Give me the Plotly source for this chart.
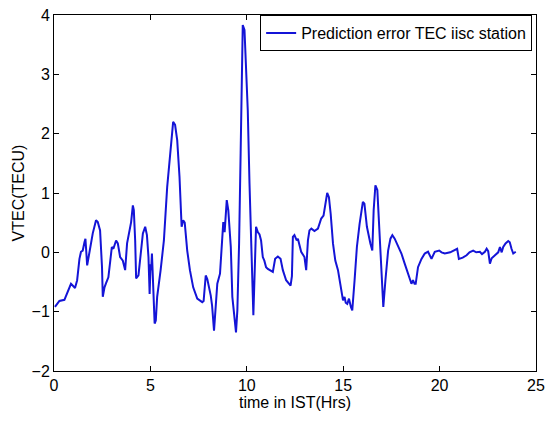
import plotly.graph_objects as go

time_hrs = [0.05, 0.28, 0.54, 0.62, 0.71, 0.80, 0.88, 0.97, 1.09, 1.20, 1.32, 1.40, 1.49, 1.58, 1.63,
            1.72, 1.84, 2.01, 2.18, 2.27, 2.39, 2.44, 2.49, 2.53, 2.62, 2.70, 2.82, 2.93, 3.00, 3.08,
            3.22, 3.31, 3.43, 3.57, 3.69, 3.79, 3.92, 4.00, 4.09, 4.14, 4.21, 4.26, 4.38, 4.49, 4.61,
            4.73, 4.82, 4.90, 4.96, 5.01, 5.04, 5.08, 5.15, 5.22, 5.28, 5.35, 5.53, 5.70, 5.87, 6.05,
            6.18, 6.28, 6.39, 6.51, 6.62, 6.70, 6.78, 6.91, 7.05, 7.22, 7.43, 7.69, 7.76, 7.87, 7.95,
            8.13, 8.20, 8.30, 8.40, 8.47, 8.61, 8.73, 8.78, 8.85, 8.96, 9.04, 9.17, 9.25, 9.44, 9.51,
            9.60, 9.68, 9.72, 9.79, 9.88, 9.96, 10.05, 10.14, 10.22, 10.31, 10.34, 10.39, 10.48, 10.57,
            10.66, 10.74, 10.83, 10.91, 11.00, 11.09, 11.35, 11.47, 11.61, 11.75, 11.87, 12.04, 12.27,
            12.34, 12.39, 12.47, 12.59, 12.65, 12.82, 12.99, 13.08, 13.17, 13.25, 13.35, 13.51, 13.69,
            13.86, 13.98, 14.07, 14.17, 14.26, 14.35, 14.47, 14.59, 14.73, 14.87, 14.99, 15.07, 15.13,
            15.21, 15.30, 15.40, 15.47, 15.59, 15.71, 15.85, 16.02, 16.10, 16.23, 16.41, 16.51, 16.58,
            16.67, 16.77, 16.86, 16.98, 17.08, 17.19, 17.33, 17.45, 17.55, 17.67, 17.85, 18.02, 18.19,
            18.36, 18.54, 18.62, 18.70, 18.76, 18.88, 19.06, 19.23, 19.40, 19.58, 19.75, 19.98, 20.10,
            20.27, 20.55, 20.79, 20.91, 21.00, 21.20, 21.40, 21.55, 21.74, 21.90, 22.09, 22.20, 22.35,
            22.44, 22.52, 22.61, 22.70, 22.87, 23.04, 23.13, 23.22, 23.30, 23.42, 23.56, 23.64, 23.73,
            23.82, 23.95]

pred_error = [-0.92, -0.82, -0.80, -0.73, -0.67, -0.60, -0.53, -0.56, -0.60, -0.47, -0.11, 0.01, 0.03, 0.17, 0.23,
              -0.22, 0.01, 0.32, 0.54, 0.51, 0.37, 0.09, -0.25, -0.75, -0.59, -0.52, -0.42, -0.11, 0.09, 0.06,
              0.20, 0.15, -0.08, -0.14, -0.30, 0.15, 0.34, 0.51, 0.79, 0.71, 0.20, -0.44, -0.39, 0.01, 0.32,
              0.43, 0.29, -0.08, -0.70, -0.20, -0.30, -0.02, -0.70, -1.20, -1.15, -0.75, -0.30, 0.20, 1.10, 1.72,
              2.20, 2.15, 1.89, 1.27, 0.43, 0.54, 0.50, 0.03, -0.30, -0.59, -0.78, -0.84, -0.82, -0.39, -0.45,
              -0.73, -0.90, -1.32, -0.81, -0.53, -0.36, 0.26, 0.51, 0.34, 0.88, 0.71, 0.09, -0.75, -1.35, -0.98,
              0.15, 1.67, 2.60, 3.83, 3.75, 3.19, 2.40, 1.16, 0.15, -0.81, -1.06, -0.53, 0.43, 0.34,
              0.30, 0.20, -0.08, -0.14, -0.25, -0.28, -0.33, -0.11, -0.07, -0.11, -0.30, -0.47, -0.56,
              -0.40, 0.26, 0.29, 0.20, 0.23, 0.01, -0.08, -0.30, 0.20, 0.37, 0.40, 0.36, 0.40,
              0.57, 0.62, 0.82, 1.00, 0.93, 0.65, 0.15, -0.14, -0.30, -0.59, -0.81, -0.75, -0.85,
              -0.87, -0.78, -0.92, -0.98, -0.47, 0.09, 0.48, 0.85, 0.82, 0.43, 0.15, 0.03, 0.71,
              1.13, 1.05, 0.43, -0.42, -0.92, -0.47, 0.03, 0.23, 0.29, 0.23, 0.09, -0.02, -0.19,
              -0.36, -0.53, -0.47, -0.53, -0.53, -0.25, -0.11, -0.02, 0.01, -0.11, 0.01, 0.03, 0.00,
              -0.02, 0.00, 0.04, 0.06, -0.11, -0.09, -0.05, 0.00, 0.03, 0.00, 0.01, -0.03, 0.01,
              0.06, 0.02, -0.19, -0.10, -0.05, 0.00, 0.09, 0.00, 0.09, 0.15, 0.19, 0.17, 0.06,
              -0.02, 0.01]

x_ticks = [0, 5, 10, 15, 20, 25]
y_ticks = [-2, -1, 0, 1, 2, 3, 4]

FONT = "Liberation Sans Narrow, Arial Narrow, Liberation Sans, Arial, sans-serif"
FS = 16

fig = go.Figure()
fig.add_trace(go.Scatter(
    x=time_hrs, y=pred_error, mode="lines",
    name="Prediction error TEC iisc station",
    line=dict(color="rgb(20,20,215)", width=2),
))

axis_common = dict(
    showline=True, linecolor="black", linewidth=1, mirror="ticks", automargin=False,
    ticks="inside", ticklen=5, tickcolor="black", showgrid=False, zeroline=False,
    tickfont=dict(family=FONT, size=FS, color="black"),
)

fig.update_layout(
    width=549, height=427,
    margin=dict(l=54, r=13, t=15, b=56, autoexpand=False),
    paper_bgcolor="white", plot_bgcolor="white",
    font=dict(family=FONT, size=FS, color="black"),
    xaxis=dict(range=[0, 25], tickvals=x_ticks,
               title=dict(text="time in IST(Hrs)", font=dict(family=FONT, size=FS), standoff=2),
               **axis_common),
    yaxis=dict(range=[-2, 4], tickvals=y_ticks,
               title=dict(text="VTEC(TECU)", font=dict(family=FONT, size=FS), standoff=2),
               **axis_common),
    showlegend=True,
    legend=dict(x=0.992, y=1.0, xanchor="right", yanchor="top",
                bordercolor="black", borderwidth=1, bgcolor="white",
                font=dict(family=FONT, size=FS, color="black"),
                itemwidth=30, tracegroupgap=0),
)

fig.write_html("out.html", config={"displayModeBar": False},
               post_script="document.body.style.margin='0';")
